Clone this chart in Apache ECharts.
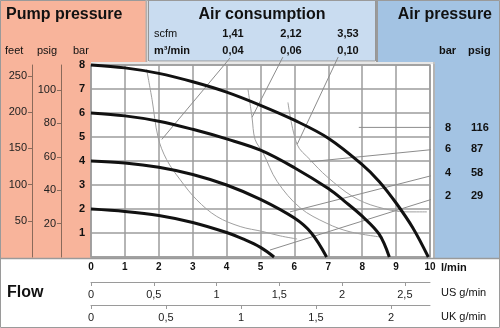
<!DOCTYPE html>
<html><head><meta charset="utf-8">
<script src="https://cdn.jsdelivr.net/npm/echarts@6/dist/echarts.min.js"></script>
<style>html,body{margin:0;padding:0;background:#fff}#c{width:500px;height:328px}</style>
</head><body><div id="c"></div>
<script>
// ---------- data ----------
const flowTicks = [0,1,2,3,4,5,6,7,8,9,10];
const usTicks = [0,0.5,1,1.5,2,2.5];
const ukTicks = [0,0.5,1,1.5,2];
const barTicks = [1,2,3,4,5,6,7,8];
const psigTicks = [20,40,60,80,100];
const feetTicks = [50,100,150,200,250];

const scfmLabels = ['1,41','2,12','3,53'];
const m3Labels = ['0,04','0,06','0,10'];
const airBar = ['8','6','4','2'];
const airPsig = ['116','87','58','29'];

// pump pressure curves (flow l/min, bar)
const pump8 = [[0,8],[1,7.88],[2,7.65],[3,7.3],[4,6.87],[5,6.32],[6,5.7],[7,4.95],[8,3.85],[8.5,3.15],[9,2.25],[9.5,1.2],[9.95,0]];
const pump6 = [[0,6],[1,5.88],[2,5.66],[3,5.32],[4,4.92],[5,4.45],[6,3.72],[7,2.85],[7.5,2.3],[8,1.7],[8.5,0.95],[8.8,0]];
const pump4 = [[0,4],[1,3.92],[2,3.74],[3,3.44],[4,3.0],[5,2.4],[6,1.62],[6.5,1.0],[6.95,0]];
const pump2 = [[0,2],[1,1.9],[2,1.73],[3,1.44],[4,1.02],[4.5,0.74],[5,0.4],[5.4,0]];

// air consumption curves
const air004 = [[1.64,7.82],[1.8,6.57],[1.98,4.98],[2.23,4.06],[2.63,3.22],[3.12,2.38],[3.71,1.69],[4.4,1.27],[5.07,1.06],[5.58,0.88],[6.08,0.75]];
const air006 = [[4.63,6.99],[4.75,5.82],[4.84,4.9],[5.07,4.35],[5.49,3.15],[6.17,2.05],[6.96,1.4],[7.64,1.05],[8.61,0.82]];
const air010 = [[5.81,6.44],[6.08,4.69],[6.46,4.06],[6.96,3.35],[7.73,2.51],[8.44,2.09],[9.32,1.88],[9.91,1.88]];

// leader lines
const leadTop = [
  [[4.10,8.29],[2.09,4.9]],
  [[5.66,8.33],[4.75,5.82]],
  [[7.29,8.33],[6.08,4.69]]
];
const leadRight = [
  [[7.9,5.4],[10.38,5.4]],
  [[6.46,3.97],[10.38,4.52]],
  [[5.87,1.88],[10.38,3.51]],
  [[5.28,0.29],[10.38,2.55]]
];
const marker = [[8.53,1.34]];

// ---------- chart ----------
const FF = "'Liberation Sans', Arial, Helvetica, sans-serif";
const comma = v => String(v).replace('.', ',');
const chart = echarts.init(document.getElementById('c'), null, {renderer:'canvas'});

const thick = (d) => ({type:'line', data:d, xAxisIndex:0, yAxisIndex:0, symbol:'none', smooth:0.35, clip:false,
  lineStyle:{color:'#111', width:3}, z:5, silent:true});
const thin = (d) => ({type:'line', data:d, xAxisIndex:0, yAxisIndex:0, symbol:'none', smooth:0.35, clip:false,
  lineStyle:{color:'#a0a0a0', width:1}, z:4, silent:true});
const lead = (d) => ({type:'line', data:d, xAxisIndex:0, yAxisIndex:0, symbol:'none', smooth:false, clip:false,
  lineStyle:{color:'#8c8c8c', width:1}, z:4, silent:true});

const txt = (text, x, y, opt={}) => ({type:'text', z:20, style:{text, x, y, font:(opt.w||'normal')+' '+(opt.s||11)+'px '+FF,
  fill:opt.c||'#111', textAlign:opt.a||'left', textVerticalAlign:'middle', align:opt.a||'left', verticalAlign:'middle'}});
const rect = (x,y,w,h,fill,stroke,lw) => ({type:'rect', z:-10, shape:{x,y,width:w,height:h}, style:{fill, stroke:stroke||null, lineWidth:lw||0}});
const ln = (x1,y1,x2,y2,c,w) => ({type:'line', z:-5, shape:{x1,y1,x2,y2}, style:{stroke:c, lineWidth:w||1}});

const SAL = '#f8b49b', BLU = '#c9dcf0', BLU2 = '#a3c3e3', GR = '#969696';

const graphic = [
  rect(0,0,500,328,'#fff'),
  rect(0,0,91,258,SAL),
  rect(0,0,146,62,SAL),
  rect(148.5,0.5,227,60.5,BLU,GR,1),
  rect(378,0,122,62,BLU2),
  rect(435,0,65,258,BLU2),
  ln(146.5,0,146.5,62,'#b0b0b0',2),
  ln(377,0,377,62,'#9a9a9a',2),
  ln(434,62,434,258,'#9a9a9a',1.5),
  ln(0,258.5,500,258.5,'#9a9a9a',1.5),
  ln(91,63,435,63,'#d0d0d0',1),
  rect(0.5,0.5,499,327,null,'#9a9a9a',1),
  txt('Pump pressure',6,15,{w:'bold',s:16}),
  txt('Air consumption',262,15,{w:'bold',s:16,a:'center'}),
  txt('Air pressure',492,15,{w:'bold',s:16,a:'right'}),
  txt('feet',5,51),
  txt('psig',37,51),
  txt('bar',73,51),
  txt('scfm',154,34),
  txt('m³/min',154,51,{w:'bold'}),
  txt('bar',439,51,{w:'bold'}),
  txt('psig',468,51,{w:'bold'}),
  txt('Flow',7,293,{w:'bold',s:16}),
  txt('l/min',441,268,{w:'bold'}),
  txt('US g/min',441,293),
  txt('UK g/min',441,317)
];
const scfmX = [233,291,348];
scfmLabels.forEach((t,i)=>graphic.push(txt(t,scfmX[i],34,{w:'bold',a:'center'})));
m3Labels.forEach((t,i)=>graphic.push(txt(t,scfmX[i],51,{w:'bold',a:'center'})));
const rightY = [128,149,173,196];
airBar.forEach((t,i)=>graphic.push(txt(t,445,rightY[i],{w:'bold'})));
airPsig.forEach((t,i)=>graphic.push(txt(t,471,rightY[i],{w:'bold'})));

const series = [
  thick(pump8), thick(pump6), thick(pump4), thick(pump2),
  thin(air004), thin(air006), thin(air010),
  ...leadTop.map(lead), ...leadRight.map(lead),
  {type:'scatter', data:marker, symbol:'emptyCircle', symbolSize:5, itemStyle:{color:'#fff', borderColor:'#7d8aa8', borderWidth:1}, z:6, silent:true}
];

const option = {
  animation:false,
  backgroundColor:'transparent',
  grid:{left:91, top:65, width:339, height:192, show:true, backgroundColor:'#fff', borderColor:'#9a9a9a', borderWidth:1.5, z:-1},
  graphic:{elements:graphic},
  xAxis:[
    {type:'value', min:0, max:10, interval:1, position:'bottom',
      axisLine:{show:false, onZero:false}, axisTick:{show:false},
      axisLabel:{margin:5, fontSize:10, fontWeight:'bold', color:'#111', fontFamily:FF, customValues:flowTicks},
      splitLine:{show:true, lineStyle:{color:'#9c9c9c', width:1.5}}},
    {type:'value', min:0, max:2.7, position:'bottom', offset:25,
      axisLine:{show:true, onZero:false, lineStyle:{color:'#9a9a9a', width:1}},
      axisTick:{show:true, length:4, customValues:usTicks, lineStyle:{color:'#9a9a9a'}},
      axisLabel:{margin:7, fontSize:11, color:'#222', fontFamily:FF, customValues:usTicks, formatter:comma},
      splitLine:{show:false}},
    {type:'value', min:0, max:2.26, position:'bottom', offset:48,
      axisLine:{show:true, onZero:false, lineStyle:{color:'#9a9a9a', width:1}},
      axisTick:{show:true, length:4, customValues:ukTicks, lineStyle:{color:'#9a9a9a'}},
      axisLabel:{margin:7, fontSize:11, color:'#222', fontFamily:FF, customValues:ukTicks, formatter:comma},
      splitLine:{show:false}}
  ],
  yAxis:[
    {type:'value', min:0, max:8, interval:1, position:'left',
      axisLine:{show:false, onZero:false}, axisTick:{show:false},
      axisLabel:{margin:6, fontSize:11, fontWeight:'bold', color:'#111', fontFamily:FF, customValues:barTicks},
      splitLine:{show:true, lineStyle:{color:'#9c9c9c', width:1.5}}},
    {type:'value', min:0, max:115, position:'left', offset:30,
      axisLine:{show:true, onZero:false, lineStyle:{color:'#8a6a5a', width:1}},
      axisTick:{show:true, length:4, customValues:psigTicks, lineStyle:{color:'#8a6a5a'}},
      axisLabel:{margin:5, fontSize:11, color:'#222', fontFamily:FF, customValues:psigTicks},
      splitLine:{show:false}},
    {type:'value', min:0, max:265, position:'left', offset:59,
      axisLine:{show:true, onZero:false, lineStyle:{color:'#8a6a5a', width:1}},
      axisTick:{show:true, length:4, customValues:feetTicks, lineStyle:{color:'#8a6a5a'}},
      axisLabel:{margin:5, fontSize:11, color:'#222', fontFamily:FF, customValues:feetTicks},
      splitLine:{show:false}}
  ],
  series
};
chart.setOption(option);
</script></body></html>
